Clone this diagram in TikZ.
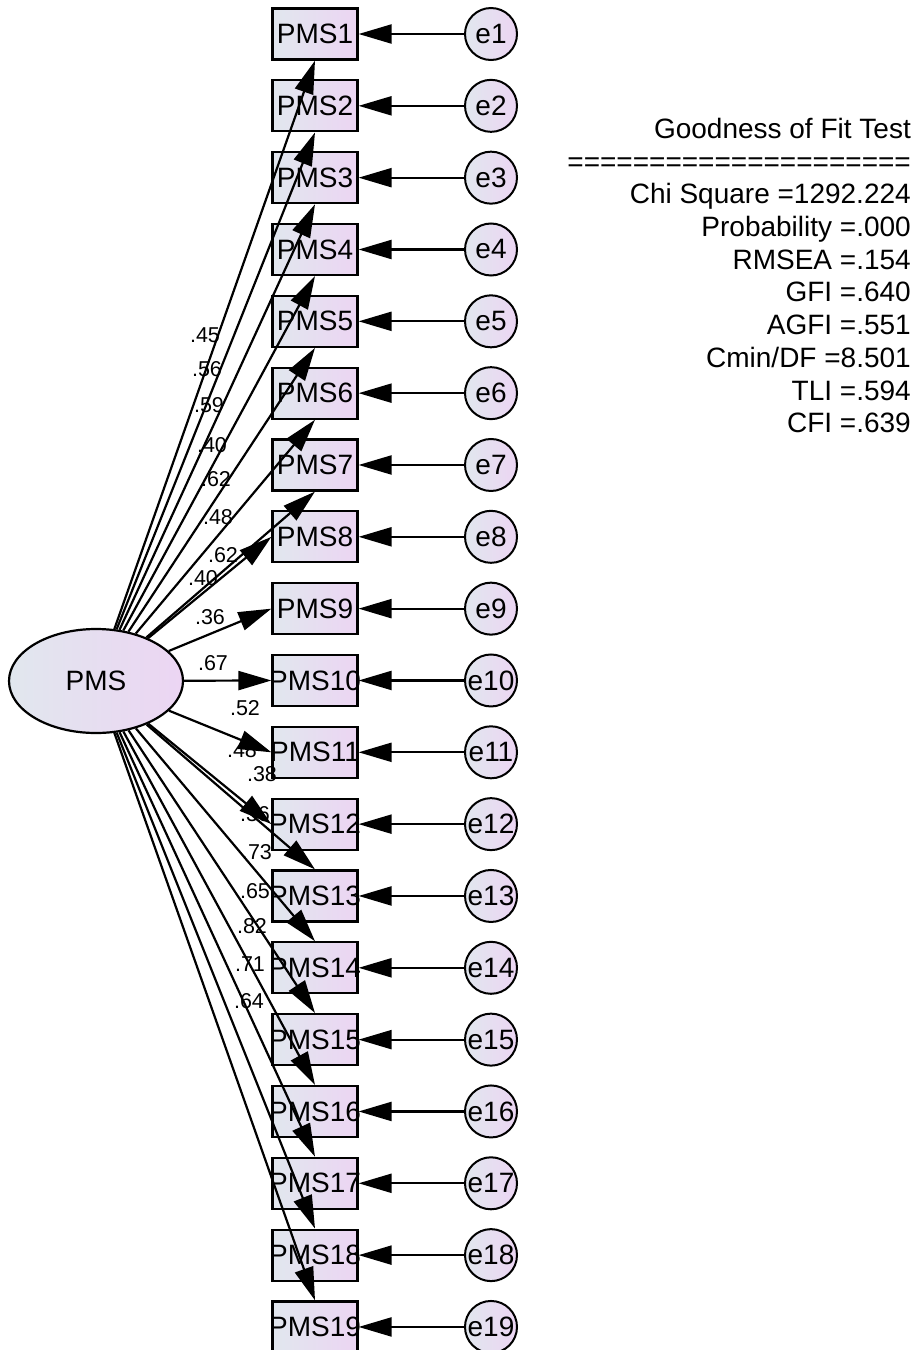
\documentclass[tikz,border=0pt]{standalone}
\usepackage{fontspec}
\setmainfont{Liberation Sans}
\usetikzlibrary{shapes.geometric,arrows.meta}
\definecolor{shadeL}{RGB}{225,231,238}
\definecolor{shadeR}{RGB}{236,213,243}
\begin{document}
\begin{tikzpicture}[x=1pt,y=-1pt,
  obs/.style={draw, line width=2.2pt, rectangle, minimum width=85pt, minimum height=51pt,
    inner sep=0pt, left color=shadeL, right color=shadeR, font=\fontsize{28}{32}\selectfont},
  err/.style={draw, line width=2pt, circle, minimum size=52pt, inner sep=0pt,
    left color=shadeL, right color=shadeR, font=\fontsize{28}{32}\selectfont},
  lat/.style={draw, line width=2.2pt, ellipse, minimum width=174pt, minimum height=104pt,
    inner sep=0pt, left color=shadeL, right color=shadeR, font=\fontsize{28}{32}\selectfont},
  link/.style={line width=2.2pt, -{Triangle[length=33pt,width=19pt]}},
  wt/.style={font=\fontsize{21.5}{24}\selectfont, inner sep=0pt},
]
\useasboundingbox (0,0) rectangle (917,1350);

% latent factor
\node[lat] (pms) at (96,681) {PMS};

% indicators and their error terms
\foreach \i in {1,...,19}{
  \pgfmathsetmacro\yy{34+(\i-1)*71.83}
  \node[obs] (b\i) at (315,\yy) {\makebox[0pt]{PMS\i}};
  \node[err] (e\i) at (491,\yy) {\makebox[0pt]{e\i}};
}

% error paths
\foreach \i in {1,...,19}{
  \draw[link] (e\i) -- (b\i.east);
}

% factor loadings
\foreach \i in {1,...,7}{
  \draw[link] (pms) -- (b\i.south);
}
\foreach \i in {8,...,12}{
  \draw[link] (pms) -- (b\i.west);
}
\foreach \i in {13,...,19}{
  \draw[link] (pms) -- (b\i.north);
}

% standardized estimates
\node[wt] (w1)  at (205,335)  {.45};
\node[wt] (w2)  at (207,369)  {.56};
\node[wt] (w3)  at (209,405)  {.59};
\node[wt] (w4)  at (212,445)  {.40};
\node[wt] (w5)  at (216,479)  {.62};
\node[wt] (w6)  at (218,517)  {.48};
\node[wt] (w7)  at (223,555)  {.62};
\node[wt] (w8)  at (203,578)  {.40};
\node[wt] (w9)  at (210,617)  {.36};
\node[wt] (w10) at (213,663)  {.67};
\node[wt] (w11) at (245,708)  {.52};
\node[wt] (w12) at (242,750)  {.48};
\node[wt] (w13) at (262,774)  {.38};
\node[wt] (w14) at (255,814)  {.36};
\node[wt] (w15) at (257,852)  {.73};
\node[wt] (w16) at (255,891)  {.65};
\node[wt] (w17) at (252,926)  {.82};
\node[wt] (w18) at (250,964)  {.71};
\node[wt] (w19) at (249,1001) {.64};

% fit summary
\node[anchor=north east, align=right, inner sep=0pt, font=\fontsize{28}{32.7}\selectfont]
  (fit) at (911,118) {Goodness of Fit Test\\
  =====================\\
  Chi Square =1292.224\\
  Probability =.000\\
  RMSEA =.154\\
  GFI =.640\\
  AGFI =.551\\
  Cmin/DF =8.501\\
  TLI =.594\\
  CFI =.639};
\end{tikzpicture}
\end{document}
